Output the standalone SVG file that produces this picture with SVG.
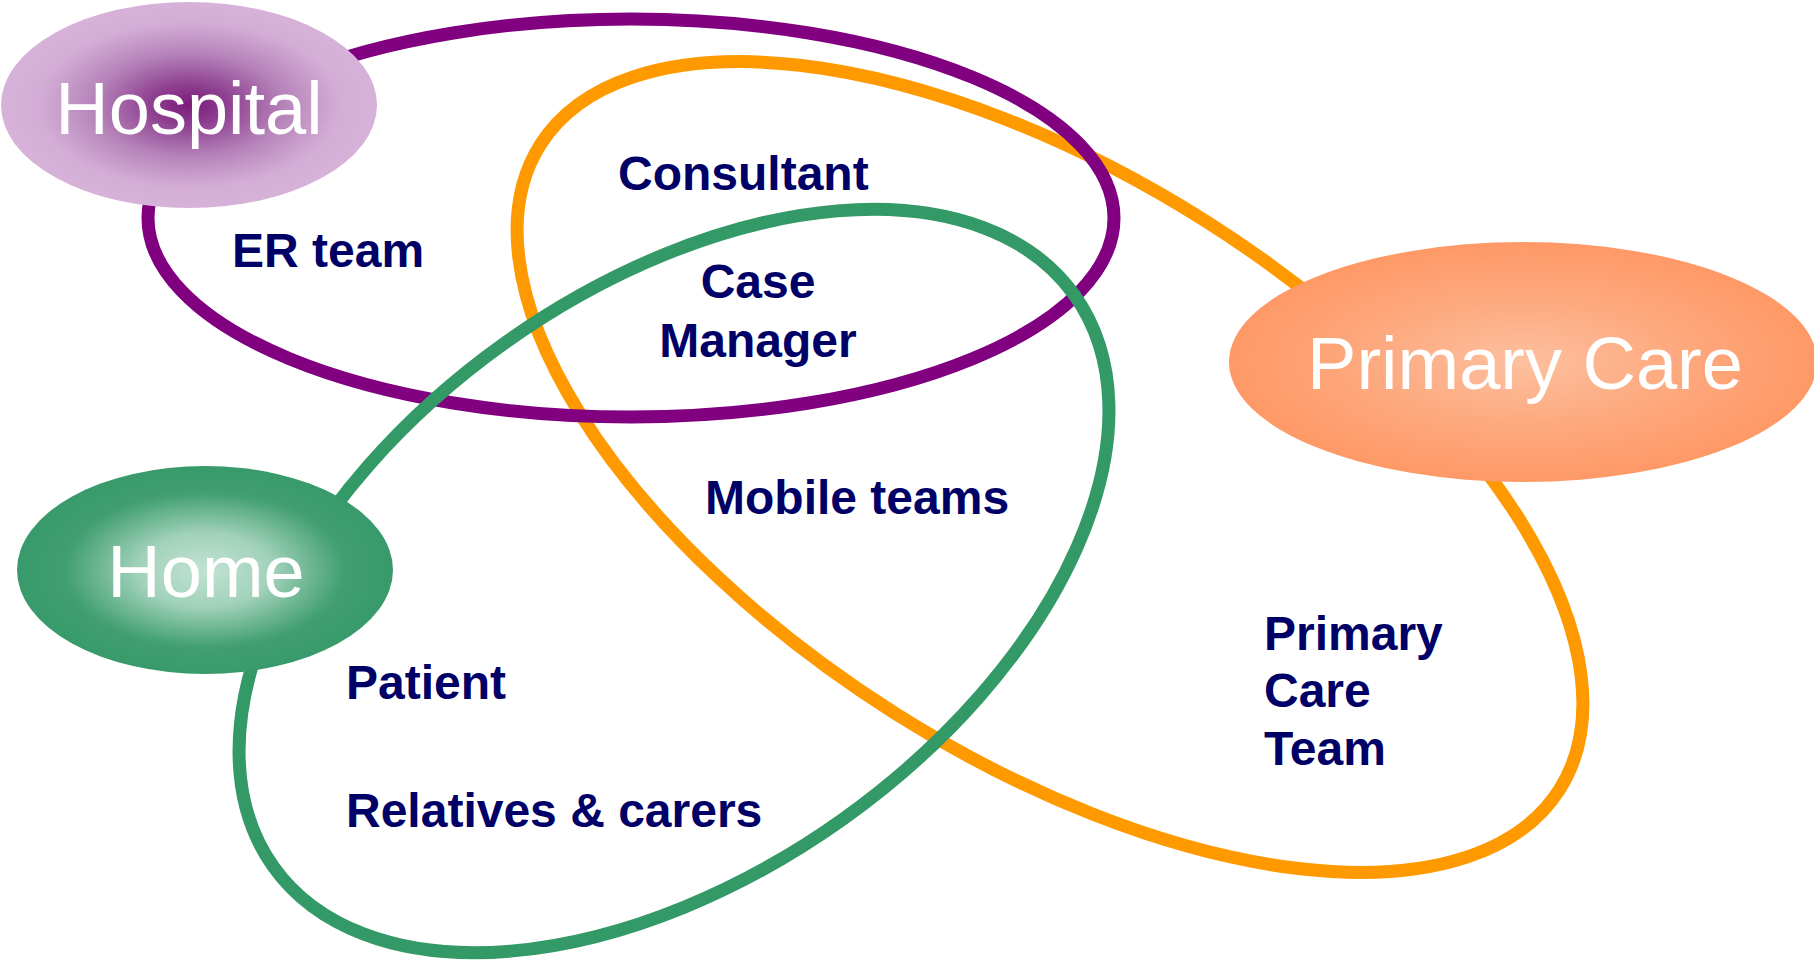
<svg xmlns="http://www.w3.org/2000/svg" width="1814" height="960" viewBox="0 0 1814 960">
<defs>
<radialGradient id="gHosp" cx="0.5" cy="0.5" r="0.5">
<stop offset="0" stop-color="#7A1A7A"/>
<stop offset="0.2" stop-color="#8E3F90"/>
<stop offset="0.5" stop-color="#B583B9"/>
<stop offset="0.8" stop-color="#D3ADD6"/>
<stop offset="1" stop-color="#D6B2D9"/>
</radialGradient>
<radialGradient id="gHome" cx="0.5" cy="0.5" r="0.5">
<stop offset="0" stop-color="#C2E2D3"/>
<stop offset="0.35" stop-color="#A2D2BB"/>
<stop offset="0.75" stop-color="#409E70"/>
<stop offset="1" stop-color="#389A6A"/>
</radialGradient>
<radialGradient id="gPC" cx="0.5" cy="0.5" r="0.5">
<stop offset="0" stop-color="#FDC09F"/>
<stop offset="0.5" stop-color="#FDAA80"/>
<stop offset="1" stop-color="#FE9966"/>
</radialGradient>
</defs>
<style>
.ring{fill:none;stroke-width:13}
.lbl{font-family:"Liberation Sans",Arial,sans-serif;font-weight:bold;font-size:48px;fill:#000066}
.node{font-family:"Liberation Sans",Arial,sans-serif;font-size:74px;fill:#FFFFFF;text-anchor:middle}
</style>
<rect width="1814" height="960" fill="#FFFFFF"/>
<g id="connectors">
<ellipse class="ring" cx="1050" cy="467" rx="603" ry="291" transform="rotate(32.3 1050 467)" stroke="#FF9900"/>
<ellipse class="ring" cx="631" cy="218" rx="483" ry="199" stroke="#800080"/>
<ellipse class="ring" cx="674" cy="581" rx="492" ry="292" transform="rotate(-35.5 674 581)" stroke="#339966"/>
</g>
<g id="labels">
<text class="lbl" x="232" y="267">ER team</text>
<text class="lbl" x="618" y="190">Consultant</text>
<text class="lbl" x="758" y="298" text-anchor="middle">Case</text>
<text class="lbl" x="758" y="357" text-anchor="middle">Manager</text>
<text class="lbl" x="705" y="514">Mobile teams</text>
<text class="lbl" x="1264" y="650">Primary</text>
<text class="lbl" x="1264" y="707">Care</text>
<text class="lbl" x="1264" y="765">Team</text>
<text class="lbl" x="346" y="699">Patient</text>
<text class="lbl" x="346" y="827">Relatives &amp; carers</text>
</g>
<g id="hospital">
<ellipse cx="189" cy="105" rx="188" ry="103" fill="url(#gHosp)"/>
<text class="node" x="189" y="134">Hospital</text>
</g>
<g id="primary-care">
<ellipse cx="1523" cy="362" rx="294" ry="120" fill="url(#gPC)"/>
<text class="node" x="1525" y="389">Primary Care</text>
</g>
<g id="home">
<ellipse cx="205" cy="570" rx="188" ry="104" fill="url(#gHome)"/>
<text class="node" x="206" y="597">Home</text>
</g>
</svg>
